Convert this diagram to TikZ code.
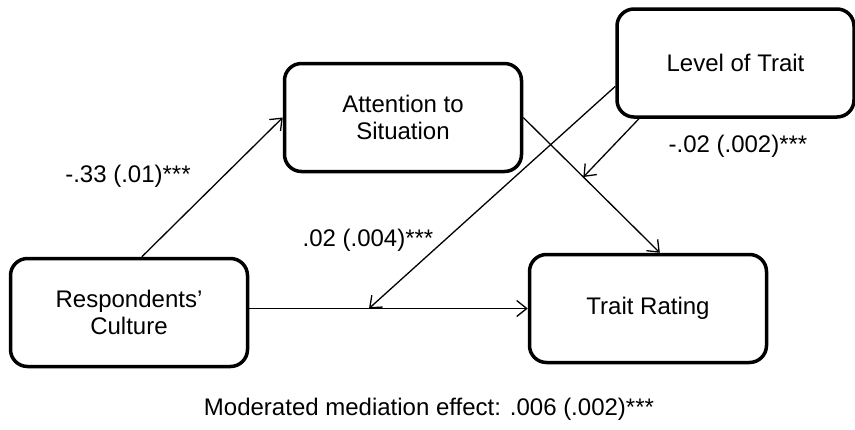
\documentclass[tikz,border=0pt]{standalone}
\usepackage{fontspec}
\setmainfont{Liberation Sans}
\usetikzlibrary{arrows.meta,positioning,calc}
\tikzset{
  flow/.style={>={Straight Barb[length=10pt,width=16pt]},line width=1.3pt},
  varbox/.style={draw=black,line width=3.5pt,rounded corners=17pt,fill=white,
    align=center,inner sep=0pt,minimum width=237pt,minimum height=108pt},
  coef/.style={inner sep=0pt},
}

\begin{document}
\begin{tikzpicture}[flow,x=1pt,y=-1pt,font=\fontsize{24}{27}\selectfont]
\useasboundingbox (0,0) rectangle (855,429);
\node[varbox] (cult) at (129,312.5) {Respondents’\\Culture};
\node[varbox] (attn) at (403,117.5) {Attention to\\Situation};
\node[varbox] (lvl) at (735.5,63) {Level of Trait};
\node[varbox] (rate) at (648,308.5) {Trait Rating};
% points on the paths that the moderator acts on
\coordinate (m1) at ($(rate.west -| cult.east)!0.43!(rate.west)$);
\coordinate (m2) at ($(attn.east)!0.44!(rate.78)$);
\draw[->] (cult.77) -- (attn.west);
\draw[->] (attn.east) -- (rate.78);
\draw[->] (rate.west -| cult.east) -- (rate.west);
\draw[->] (lvl.191) -- (m1);
\draw[->] (lvl.210) -- (m2);
\node[coef] (b1) at (128,176) {-.33 (.01)***};
\node[coef] (b2) at (368,240) {.02 (.004)***};
\node[coef] (b3) at (738,146) {-.02 (.002)***};
\node[coef] (eff) at (429,409) {Moderated mediation effect: .006 (.002)***};
\end{tikzpicture}
\end{document}
